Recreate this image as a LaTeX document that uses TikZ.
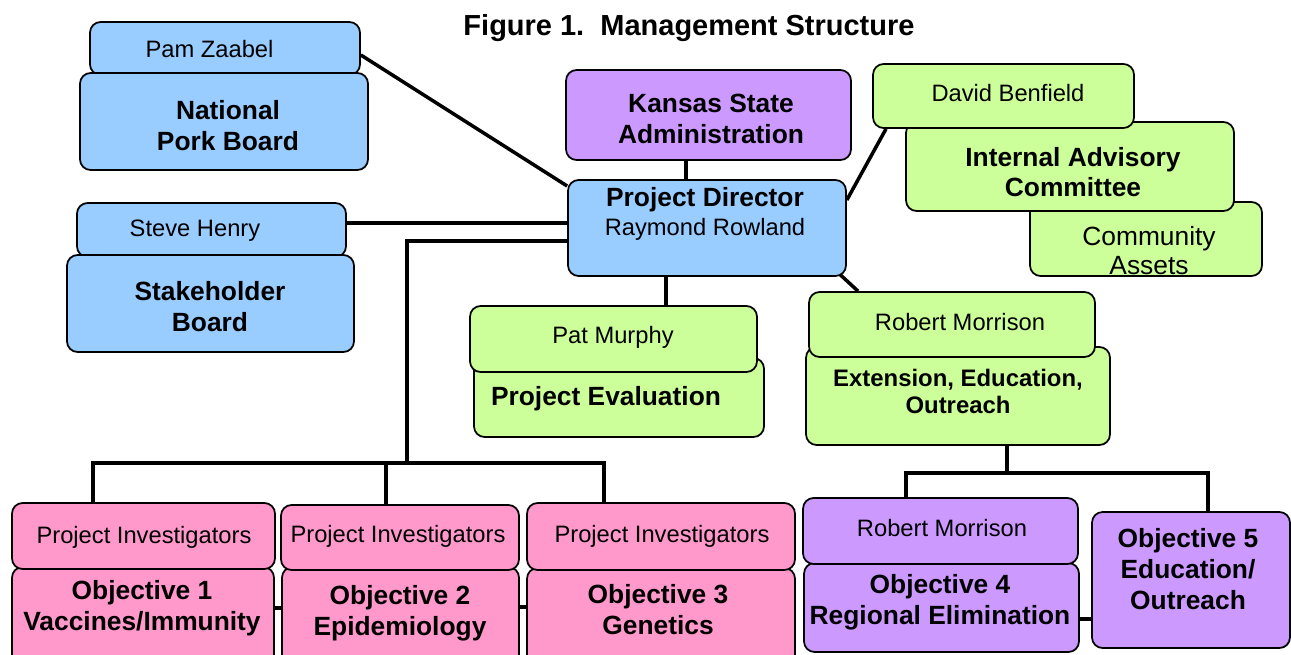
\documentclass[tikz,border=0pt]{standalone}
\usepackage{fontspec}
\setmainfont{Liberation Sans}
\usepackage{xcolor}
\usepackage{tikz}
\usetikzlibrary{backgrounds}
\definecolor{skyblue}{HTML}{99CCFF}
\definecolor{lilac}{HTML}{CC99FF}
\definecolor{limegreen}{HTML}{CCFF99}
\definecolor{rosepink}{HTML}{FF99CC}
\tikzset{
    orgbox/.style={draw, line width=1pt, rounded corners=6pt, inner sep=0pt},
    bluebox/.style={orgbox, fill=skyblue},
    purplebox/.style={orgbox, fill=lilac},
    greenbox/.style={orgbox, fill=limegreen},
    pinkbox/.style={orgbox, fill=rosepink},
    link/.style={line width=2pt},
    headtext/.style={font=\fontsize{15}{17.5}\selectfont\bfseries, align=center, inner sep=0pt},
    nametext/.style={font=\fontsize{13.5}{16}\selectfont, align=center, inner sep=0pt},
}

\begin{document}
\begin{tikzpicture}[x=0.02cm, y=-0.02cm]
        \useasboundingbox (0,0) rectangle (1291,654);
        \node[font=\fontsize{16.5}{20}\selectfont\bfseries] (title) at (689,28) {Figure 1.\ \ Management Structure};
        % boards on the left
        \node[bluebox, minimum width=5.4cm, minimum height=1.06cm] (pam) at (225,48.5) {};
        \node[nametext] (pamtext) at (209.5,49) {Pam Zaabel};
        \node[bluebox, minimum width=5.76cm, minimum height=1.94cm] (npb) at (224,121.5) {};
        \node[headtext] (npbtext) at (228,125.5) {National\\Pork Board};
        \node[bluebox, minimum width=5.38cm, minimum height=1.08cm] (steve) at (211.5,230) {};
        \node[nametext] (stevetext) at (195,231) {Steve Henry};
        \node[bluebox, minimum width=5.74cm, minimum height=1.94cm] (shb) at (210.5,303.5) {};
        \node[headtext] (shbtext) at (210,306.5) {Stakeholder\\Board};
        % administration and director
        \node[purplebox, minimum width=5.7cm, minimum height=1.8cm] (ksa) at (708.5,115) {};
        \node[headtext] (ksatext) at (711,119) {Kansas State\\Administration};
        \node[bluebox, minimum width=5.56cm, minimum height=1.92cm] (pd) at (707,228) {};
        \node[nametext, font=\fontsize{13.5}{16.5}\selectfont] (pdtext) at (705,213.5)
            {{\fontsize{15}{17}\selectfont\bfseries Project Director}\\Raymond Rowland};
        % advisory committee
        \node[greenbox, minimum width=4.64cm, minimum height=1.48cm] (ca) at (1146,239) {};
        \node[nametext, font=\fontsize{15}{16.5}\selectfont] (catext) at (1149,250.5) {Community\\Assets};
        \node[greenbox, minimum width=6.56cm, minimum height=1.78cm] (iac) at (1070,166.5) {};
        \node[headtext] (iactext) at (1073,172) {Internal Advisory\\Committee};
        \node[greenbox, minimum width=5.22cm, minimum height=1.28cm] (db) at (1003.5,96) {};
        \node[nametext] (dbtext) at (1008,93) {David Benfield};
        % evaluation and extension
        \node[greenbox, minimum width=5.8cm, minimum height=1.58cm] (pe) at (619,397.5) {};
        \node[headtext] (petext) at (606,399) {Project Evaluation};
        \node[greenbox, minimum width=5.74cm, minimum height=1.32cm] (pm) at (613.5,339) {};
        \node[nametext] (pmtext) at (613,337) {Pat Murphy};
        \node[greenbox, minimum width=6.08cm, minimum height=1.96cm] (eeo) at (958,396) {};
        \node[headtext, font=\fontsize{13.6}{15.5}\selectfont\bfseries] (eeotext) at (958,391.5)
            {Extension, Education,\\Outreach};
        \node[greenbox, minimum width=5.72cm, minimum height=1.3cm] (rma) at (952,324.5) {};
        \node[nametext] (rmatext) at (960,322) {Robert Morrison};
        % objectives
        \node[pinkbox, minimum width=5.24cm, minimum height=1.96cm] (oba) at (143,616) {};
        \node[headtext] (obatext) at (142,608.5) {Objective 1\\Vaccines/Immunity};
        \node[pinkbox, minimum width=5.26cm, minimum height=1.32cm] (pia) at (143.5,536) {};
        \node[nametext] (piatext) at (144,537) {Project Investigators};
        \node[pinkbox, minimum width=4.74cm, minimum height=1.96cm] (obb) at (400.5,616) {};
        \node[headtext] (obbtext) at (400,613) {Objective 2\\Epidemiology};
        \node[pinkbox, minimum width=4.76cm, minimum height=1.3cm] (pib) at (400,537.5) {};
        \node[nametext] (pibtext) at (398,536) {Project Investigators};
        \node[pinkbox, minimum width=5.36cm, minimum height=1.94cm] (obc) at (661,616.5) {};
        \node[headtext] (obctext) at (658,609.5) {Objective 3\\Genetics};
        \node[pinkbox, minimum width=5.36cm, minimum height=1.34cm] (pic) at (661,536.5) {};
        \node[nametext] (pictext) at (662,536) {Project Investigators};
        \node[purplebox, minimum width=5.5cm, minimum height=1.78cm] (obd) at (941.5,607.5) {};
        \node[headtext] (obdtext) at (940,602.5) {Objective 4\\Regional Elimination};
        \node[purplebox, minimum width=5.5cm, minimum height=1.32cm] (rmb) at (940.5,531) {};
        \node[nametext] (rmbtext) at (942,528) {Robert Morrison};
        \node[purplebox, minimum width=3.96cm, minimum height=2.72cm] (obe) at (1191,580) {};
        \node[headtext] (obetext) at (1188,569) {Objective 5\\Education/\\Outreach};
        % connectors
        \coordinate (hub1) at (407,463);
        \coordinate (hub2) at (1007,473);
        \begin{scope}[on background layer]
            \draw[link] (pam.east |- 0,55) -- (pd.north west |- 0,186);
            \draw[link] (steve.east |- 0,223) -- (pd.west |- 0,223);
            \draw[link] (pd.west |- 0,241) -| (hub1);
            \foreach \n/\x in {pia/93,pib/386,pic/604}
                \draw[link] (hub1) -| (\n.north -| \x,0);
            \draw[link] (ksa.south -| 686,0) -- (pd.north -| 686,0);
            \draw[link] (db.south west -| 886,0) -- (pd.east |- 0,200);
            \draw[link] ([xshift=-10pt,yshift=7pt]pd.south east) -- (rma.north west -| 858,0);
            \draw[link] (pd.south -| 666,0) -- (pm.north -| 666,0);
            \draw[link] (eeo.south -| hub2) -- (hub2);
            \foreach \n/\x in {rmb/906,obe/1208}
                \draw[link] (hub2) -| (\n.north -| \x,0);
            \foreach \a/\b/\y in {oba/obb/608,obb/obc/607,obd/obe/619}
                \draw[link] (\a.east |- 0,\y) -- (\b.west |- 0,\y);
        \end{scope}
\end{tikzpicture}
\end{document}
